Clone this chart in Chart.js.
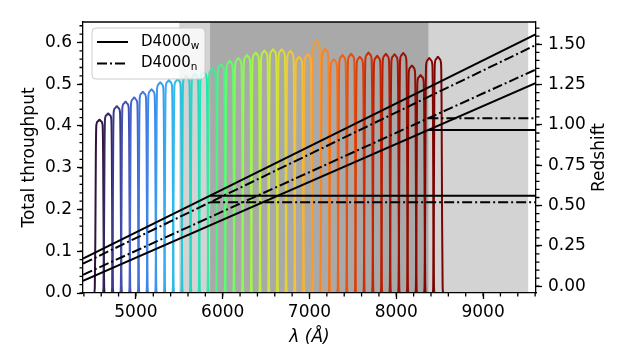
<!DOCTYPE html>
<html>
<head>
<meta charset="utf-8">
<script src="https://cdn.jsdelivr.net/npm/chart.js@4.4.0/dist/chart.umd.min.js"></script>
<style>
  html, body { margin: 0; padding: 0; background: #fff; }
  canvas { display: block; }
</style>
</head>
<body>
<canvas id="grafica" width="640" height="360"></canvas>
<script>
// limites de ejes
const X_MIN = 4390, X_MAX = 9610;
const Y_MIN = 0, Y_MAX = 0.649;
const Z_MIN = -0.042, Z_MAX = 1.638;

const X_TICKS = [5000, 6000, 7000, 8000, 9000];
const Y_TICKS = [0, 0.1, 0.2, 0.3, 0.4, 0.5, 0.6];
const Z_TICKS = [0, 0.25, 0.5, 0.75, 1.0, 1.25, 1.5];

// filtros: centro (A) y transmision maxima
const FILTER_CENTERS = [4580, 4680, 4780, 4880, 4980, 5080, 5180, 5280, 5380, 5480,
  5580, 5680, 5780, 5880, 5980, 6080, 6180, 6280, 6380, 6480,
  6580, 6680, 6780, 6880, 6980, 7080, 7180, 7280, 7380, 7480,
  7580, 7680, 7780, 7880, 7980, 8080, 8180, 8280, 8380, 8480];
const FILTER_PEAKS = [0.415, 0.430, 0.447, 0.458, 0.468, 0.482, 0.488, 0.505, 0.510, 0.512,
  0.520, 0.525, 0.530, 0.538, 0.548, 0.556, 0.563, 0.570, 0.576, 0.581,
  0.584, 0.584, 0.580, 0.566, 0.572, 0.605, 0.585, 0.560, 0.570, 0.573,
  0.566, 0.576, 0.568, 0.573, 0.572, 0.575, 0.545, 0.522, 0.563, 0.566];
// forma del filtro (desplazamiento en A, fraccion del maximo)
const PROFILE_DX = [-62, -54, -48, -42, -36, -20, 0, 20, 36, 42, 48, 54, 62];
const PROFILE_REL = [0, 0.03, 0.3, 0.8, 0.97, 0.99, 1, 0.99, 0.97, 0.8, 0.3, 0.03, 0];

// zonas sombreadas
const SPAN_LIGHT = [5500, 9520];
const SPAN_DARK = [5855, 8370];

// rectas de redshift (extremos)
const LINE_X = [4390, 9610];
const Z_W_BLUE = [0.171, 1.563];
const Z_W_RED = [0.033, 1.261];
const Z_N_BLUE = [0.140, 1.496];
const Z_N_RED = [0.071, 1.344];
const CUT_LOW_X = [5855, 9610];
const CUT_HIGH_X = [8370, 9610];
const Z_W_LOW = 0.561, Z_N_LOW = 0.521;
const Z_W_HIGH = 0.969, Z_N_HIGH = 1.041;

const LEGEND_LABELS = ["D4000", "D4000"];
const LEGEND_SUBS = ["w", "n"];

const TURBO = ["#30123b", "#4662d7", "#36aaf9", "#1ae4b6", "#72fe5e", "#c8ef34",
  "#faba39", "#f66b19", "#cb2a04", "#9b0f01", "#7a0403"];
const FONT = "DejaVu Sans";
const DASHDOT = [10, 3, 2, 3];

function rango(a, b, paso) {
  const out = [];
  for (let v = a; v <= b + 1e-9; v += paso) out.push(+v.toFixed(4));
  return out;
}
const X_MINOR = rango(4400, 9600, 200);
const Y_MINOR = rango(0, 0.64, 0.02);
const Z_MINOR = rango(0, 1.6, 0.05);

function turbo(t) {
  const n = TURBO.length - 1;
  const i = Math.min(Math.floor(t * n), n - 1);
  const f = t * n - i;
  const a = TURBO[i], b = TURBO[i + 1];
  const c = k => Math.round(parseInt(a.substr(k, 2), 16) * (1 - f) + parseInt(b.substr(k, 2), 16) * f);
  return `rgb(${c(1)},${c(3)},${c(5)})`;
}

const ds = [];

FILTER_CENTERS.forEach((c, i) => {
  const pts = [{ x: X_MIN, y: 0 }];
  PROFILE_DX.forEach((dx, k) => pts.push({ x: c + dx, y: FILTER_PEAKS[i] * PROFILE_REL[k] }));
  pts.push({ x: X_MAX, y: 0 });
  ds.push({
    data: pts,
    borderColor: turbo(i / (FILTER_CENTERS.length - 1)),
    borderWidth: 2,
    pointRadius: 0,
    cubicInterpolationMode: "monotone",
    yAxisID: "y",
    order: 100 - i
  });
});

function recta(xs, ys, dash) {
  ds.push({
    data: xs.map((x, k) => ({ x, y: ys[k] })),
    borderColor: "#000",
    borderWidth: 2,
    borderDash: dash,
    pointRadius: 0,
    yAxisID: "y2",
    order: 0
  });
}
recta(LINE_X, Z_W_BLUE, []);
recta(LINE_X, Z_W_RED, []);
recta(LINE_X, Z_N_BLUE, DASHDOT);
recta(LINE_X, Z_N_RED, DASHDOT);
recta(CUT_LOW_X, [Z_W_LOW, Z_W_LOW], []);
recta(CUT_LOW_X, [Z_N_LOW, Z_N_LOW], DASHDOT);
recta(CUT_HIGH_X, [Z_W_HIGH, Z_W_HIGH], []);
recta(CUT_HIGH_X, [Z_N_HIGH, Z_N_HIGH], DASHDOT);

const extras = {
  id: "extras",
  beforeDatasetsDraw(c) {
    const { ctx, chartArea: a, scales } = c;
    const x = scales.x;
    ctx.save();
    ctx.fillStyle = "#d3d3d3";
    ctx.fillRect(x.getPixelForValue(SPAN_LIGHT[0]), a.top, x.getPixelForValue(SPAN_LIGHT[1]) - x.getPixelForValue(SPAN_LIGHT[0]), a.bottom - a.top);
    ctx.fillStyle = "#a9a9a9";
    ctx.fillRect(x.getPixelForValue(SPAN_DARK[0]), a.top, x.getPixelForValue(SPAN_DARK[1]) - x.getPixelForValue(SPAN_DARK[0]), a.bottom - a.top);
    ctx.restore();
  },
  afterDraw(c) {
    const { ctx, chartArea: a, scales } = c;
    ctx.save();
    ctx.strokeStyle = "#000";
    ctx.lineWidth = 1.3;
    // borde superior
    ctx.beginPath();
    ctx.moveTo(a.left, a.top);
    ctx.lineTo(a.right, a.top);
    ctx.stroke();
    // ticks menores
    ctx.beginPath();
    X_MINOR.forEach(v => {
      const p = scales.x.getPixelForValue(v);
      ctx.moveTo(p, a.bottom); ctx.lineTo(p, a.bottom + 3.5);
    });
    Y_MINOR.forEach(v => {
      const p = scales.y.getPixelForValue(v);
      ctx.moveTo(a.left, p); ctx.lineTo(a.left - 3.5, p);
    });
    Z_MINOR.forEach(v => {
      const p = scales.y2.getPixelForValue(v);
      ctx.moveTo(a.right, p); ctx.lineTo(a.right + 3.5, p);
    });
    ctx.stroke();

    // titulo eje derecho
    ctx.fillStyle = "#000";
    ctx.font = `17px "${FONT}"`;
    ctx.textAlign = "center";
    ctx.textBaseline = "middle";
    ctx.translate(a.right + 64, (a.top + a.bottom) / 2);
    ctx.rotate(-Math.PI / 2);
    ctx.fillText("Redshift", 0, 0);
    ctx.setTransform(1, 0, 0, 1, 0, 0);

    // leyenda
    const bx = a.left + 9, by = a.top + 6, bw = 113, bh = 51;
    ctx.fillStyle = "rgba(255,255,255,0.8)";
    ctx.strokeStyle = "#cccccc";
    ctx.lineWidth = 1;
    ctx.beginPath();
    ctx.roundRect(bx, by, bw, bh, 4);
    ctx.fill();
    ctx.stroke();
    LEGEND_LABELS.forEach((txt, i) => {
      const yy = by + 14 + i * 21.6;
      ctx.strokeStyle = "#000";
      ctx.lineWidth = 2;
      ctx.setLineDash(i === 0 ? [] : DASHDOT);
      ctx.beginPath();
      ctx.moveTo(bx + 5, yy);
      ctx.lineTo(bx + 36, yy);
      ctx.stroke();
      ctx.setLineDash([]);
      ctx.fillStyle = "#000";
      ctx.textAlign = "left";
      ctx.textBaseline = "middle";
      ctx.font = `15px "${FONT}"`;
      ctx.fillText(txt, bx + 49, yy);
      const w = ctx.measureText(txt).width;
      ctx.font = `10.5px "${FONT}"`;
      ctx.fillText(LEGEND_SUBS[i], bx + 49 + w, yy + 4);
    });
    ctx.restore();
  }
};

const gridOpts = { drawOnChartArea: false, drawTicks: true, tickLength: 6, tickColor: "#000", tickWidth: 1.3 };
const borderOpts = { display: true, color: "#000", width: 1.3, z: 1 };
const tickFont = { family: FONT, size: 17 };

new Chart(document.getElementById("grafica"), {
  type: "line",
  data: { datasets: ds },
  options: {
    responsive: false,
    animation: false,
    devicePixelRatio: 1,
    layout: { padding: { top: 22, left: 0, right: 0, bottom: 0 } },
    plugins: { legend: { display: false }, tooltip: { enabled: false } },
    scales: {
      x: {
        type: "linear",
        min: X_MIN,
        max: X_MAX,
        afterBuildTicks: s => { s.ticks = X_TICKS.map(v => ({ value: v })); },
        afterFit: s => { s.height = 67; },
        ticks: { color: "#000", font: tickFont, padding: 3, maxRotation: 0, callback: v => String(v) },
        grid: gridOpts,
        border: borderOpts,
        title: { display: true, text: "λ (Å)", color: "#000", font: { family: FONT, size: 17, style: "italic" }, padding: { top: 0, bottom: 12 } }
      },
      y: {
        position: "left",
        min: Y_MIN,
        max: Y_MAX,
        afterBuildTicks: s => { s.ticks = Y_TICKS.map(v => ({ value: v })); },
        afterFit: s => { s.width = 83; },
        ticks: { color: "#000", font: tickFont, padding: 5, callback: v => v.toFixed(1) },
        grid: gridOpts,
        border: borderOpts,
        title: { display: true, text: "Total throughput", color: "#000", font: { family: FONT, size: 17 }, padding: { top: 19, bottom: 0 } }
      },
      y2: {
        position: "right",
        min: Z_MIN,
        max: Z_MAX,
        afterBuildTicks: s => { s.ticks = Z_TICKS.map(v => ({ value: v })); },
        afterFit: s => { s.width = 104; },
        ticks: { color: "#000", font: tickFont, padding: 6, callback: v => v.toFixed(2) },
        grid: gridOpts,
        border: borderOpts
      }
    }
  },
  plugins: [extras]
});
</script>
</body>
</html>
